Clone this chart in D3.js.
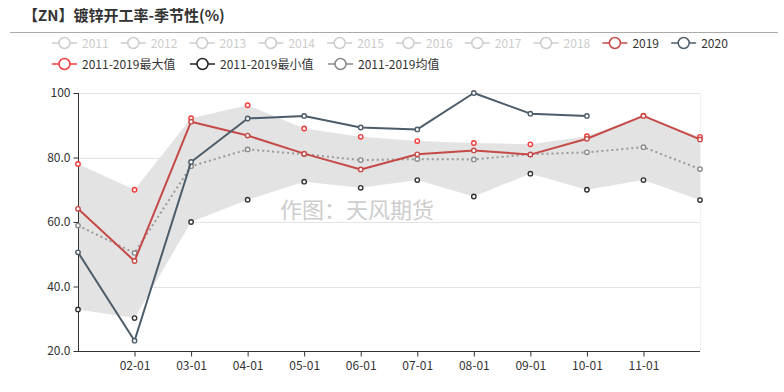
<!DOCTYPE html>
<html><head><meta charset="utf-8">
<script src="https://cdnjs.cloudflare.com/ajax/libs/d3/7.8.5/d3.min.js"></script>
<style>
body{margin:0;background:#fff;}
svg{display:block;font-family:"Microsoft YaHei","Noto Sans CJK SC","Noto Sans",sans-serif;}
</style></head>
<body><svg id="c" width="784" height="392"></svg>
<script>
const title = "【ZN】镀锌开工率-季节性(%)";
const categories = ["01-01","02-01","03-01","04-01","05-01","06-01","07-01","08-01","09-01","10-01","11-01","12-01"];
const shownTicks = ["02-01","03-01","04-01","05-01","06-01","07-01","08-01","09-01","10-01","11-01"];
const yTicks = [20, 40, 60, 80, 100];
const yTickLabels = ["20.0","40.0","60.0","80.0","100"];
const inactiveYears = ["2011","2012","2013","2014","2015","2016","2017","2018"];
const s2019 = [64.1, 47.9, 91.1, 86.8, 81.2, 76.3, 81.0, 82.2, 80.9, 85.8, 92.9, 85.6];
const s2020 = [50.6, 23.2, 78.6, 92.1, 92.9, 89.3, 88.7, 100.0, 93.6, 92.9];
const maxVals = [78.0, 70.0, 92.2, 96.2, 89.0, 86.4, 85.1, 84.5, 84.1, 86.6, 93.0, 86.4];
const minVals = [32.9, 30.2, 60.0, 66.9, 72.5, 70.6, 73.0, 67.9, 75.0, 70.0, 73.0, 66.8];
const meanVals = [58.9, 50.4, 77.3, 82.5, 81.0, 79.2, 79.5, 79.4, 81.0, 81.6, 83.2, 76.4];
const watermark = "作图：天风期货";

(function () {
const svg = d3.select("#c");
const pLeft = 78, pRight = 700, pTop = 93, pBottom = 351;
const x = d3.scalePoint().domain(categories).range([pLeft, pRight]);
const y = d3.scaleLinear().domain([20, 100]).range([pBottom, pTop]);
const FONT = "'Microsoft YaHei','Noto Sans CJK SC',sans-serif";
const C2019 = "#c54a47", C2020 = "#4d5c69";

// title
svg.append("text").attr("x", 23).attr("y", 21).attr("font-size", 15).attr("font-weight", "bold")
  .attr("fill", "#333").text(title);
svg.append("line").attr("x1", 10).attr("x2", 778).attr("y1", 32.5).attr("y2", 32.5)
  .attr("stroke", "#aaa").attr("stroke-width", 1);

// grid
const g = svg.append("g");
g.selectAll("line.grid").data(yTicks.slice(1)).join("line")
  .attr("x1", pLeft).attr("x2", pRight).attr("y1", d => Math.round(y(d)) + 0.5).attr("y2", d => Math.round(y(d)) + 0.5)
  .attr("stroke", "#e3e3e3");
g.append("line").attr("x1", pRight + 0.5).attr("x2", pRight + 0.5).attr("y1", pTop).attr("y2", pBottom).attr("stroke", "#f2f2f2");

// band
const idx = d3.range(categories.length);
const area = d3.area().x(i => x(categories[i])).y0(i => y(minVals[i])).y1(i => y(maxVals[i]));
svg.append("path").datum(idx).attr("d", area).attr("fill", "#e3e3e3");

// watermark
svg.append("text").attr("x", 280).attr("y", 218).attr("font-size", 22).attr("fill", "#c8c8c8")
  .attr("opacity", 0.9).text(watermark);

// axes
const yAxis = d3.axisLeft(y).tickValues(yTicks).tickFormat((d, i) => yTickLabels[i]).tickSize(5).tickPadding(3);
const ya = svg.append("g").attr("transform", `translate(${pLeft + 0.5},0)`).call(yAxis);
ya.select(".domain").attr("stroke", "#333").attr("d", `M0,${pTop}V${pBottom}`);
ya.selectAll(".tick line").attr("stroke", "#333");
ya.selectAll(".tick text").attr("fill", "#333").attr("font-size", 12).attr("font-family", FONT);

const xAxis = d3.axisBottom(x).tickValues(shownTicks).tickSize(5).tickPadding(5);
const xa = svg.append("g").attr("transform", `translate(0,${pBottom + 0.5})`).call(xAxis);
xa.select(".domain").attr("stroke", "#333").attr("d", `M${pLeft},0H${pRight}`);
xa.selectAll(".tick line").attr("stroke", "#333");
xa.selectAll(".tick text").attr("fill", "#333").attr("font-size", 12).attr("font-family", FONT);

// series
function drawLine(vals, color, width, dash) {
  const line = d3.line().x((d, i) => x(categories[i])).y(d => y(d));
  svg.append("path").datum(vals).attr("d", line).attr("fill", "none").attr("stroke", color)
    .attr("stroke-width", width).attr("stroke-dasharray", dash || null).attr("stroke-linejoin", "round");
}
function drawPts(vals, color) {
  svg.append("g").selectAll("circle").data(vals).join("circle")
    .attr("cx", (d, i) => x(categories[i])).attr("cy", d => y(d)).attr("r", 2.2)
    .attr("fill", "#fff").attr("stroke", color).attr("stroke-width", 1.4);
}
drawLine(meanVals, "#9a9a9a", 2, "2,3");
drawPts(meanVals, "#8a8a8a");
drawPts(minVals, "#333");
drawPts(maxVals, "#f03c3c");
drawLine(s2019, C2019, 2);
drawPts(s2019, C2019);
drawLine(s2020, C2020, 2);
drawPts(s2020, C2020);

// legend
function legendItem(x0, yy, label, color, textColor) {
  const lg = svg.append("g");
  lg.append("line").attr("x1", x0).attr("x2", x0 + 25).attr("y1", yy).attr("y2", yy).attr("stroke", color).attr("stroke-width", 1.5);
  lg.append("circle").attr("cx", x0 + 12.5).attr("cy", yy).attr("r", 5.5).attr("fill", "#fff").attr("stroke", color).attr("stroke-width", 1.5);
  lg.append("text").attr("x", x0 + 30).attr("y", yy + 4.5).attr("font-size", 12).attr("fill", textColor).text(label);
}
const row1 = inactiveYears.map(t => ({t, c: "#ccc", tc: "#ccc"}))
  .concat([{t: "2019", c: C2019, tc: "#333"}, {t: "2020", c: C2020, tc: "#333"}]);
row1.forEach((d, i) => legendItem(52 + i * 68.8, 43, d.t, d.c, d.tc));
const row2 = [{t: "2011-2019最大值", c: "#f03c3c"}, {t: "2011-2019最小值", c: "#222"}, {t: "2011-2019均值", c: "#888"}];
const row2x = [52, 190, 328];
row2.forEach((d, i) => legendItem(row2x[i], 64, d.t, d.c, "#333"));
})();
</script></body></html>
